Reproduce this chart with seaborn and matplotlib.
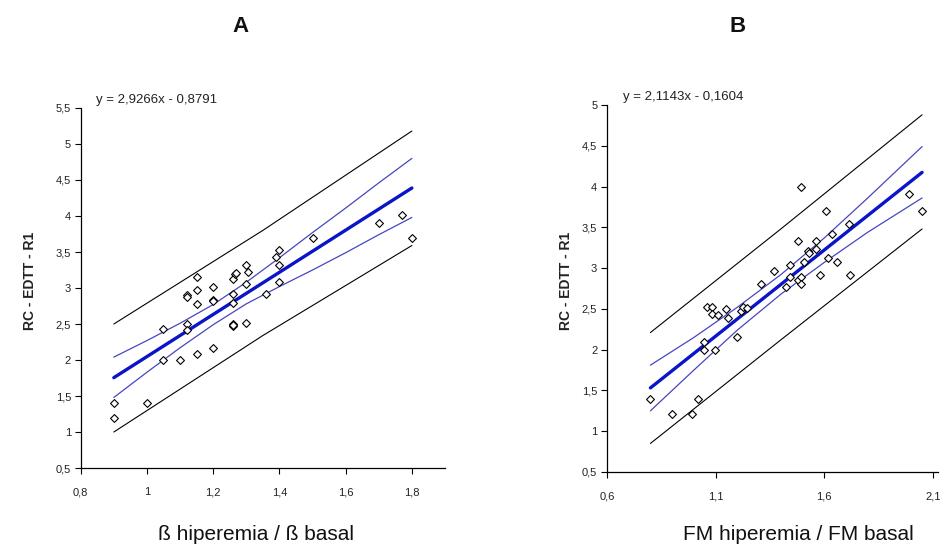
import matplotlib
matplotlib.use("Agg")
import matplotlib.pyplot as plt
import seaborn as sns
import numpy as np
import pandas as pd
from matplotlib.ticker import FixedLocator, FixedFormatter

# ---------------- data: panel A ----------------
a_x = [0.90, 0.90, 1.00, 1.05, 1.05, 1.10, 1.12, 1.12, 1.12, 1.12, 1.15, 1.15, 1.15, 1.15,
       1.20, 1.20, 1.20, 1.20, 1.26, 1.265, 1.27, 1.26, 1.26, 1.26, 1.26, 1.26,
       1.30, 1.305, 1.30, 1.30, 1.36, 1.39, 1.40, 1.40, 1.40, 1.50, 1.70, 1.77, 1.80]
a_y = [1.40, 1.20, 1.40, 2.43, 2.00, 2.00, 2.50, 2.42, 2.90, 2.88, 3.15, 2.97, 2.78, 2.09,
       3.02, 2.83, 2.82, 2.16, 3.13, 3.20, 3.21, 2.91, 2.79, 2.50, 2.47, 2.48,
       3.32, 3.22, 3.06, 2.51, 2.91, 3.43, 3.53, 3.32, 3.08, 3.70, 3.90, 4.02, 3.70]
a_slope, a_intercept = 2.9266, -0.8791
a_band_x = [0.9, 1.0, 1.1, 1.2, 1.3, 1.4, 1.5, 1.6, 1.7, 1.8]
a_conf_up = [2.04, 2.27, 2.51, 2.77, 3.08, 3.42, 3.77, 4.11, 4.46, 4.80]
a_conf_lo = [1.48, 1.83, 2.17, 2.49, 2.78, 3.02, 3.25, 3.49, 3.74, 3.98]
a_pred_x = [0.9, 1.35, 1.8]
a_pred_up = [2.50, 3.80, 5.18]
a_pred_lo = [1.00, 2.34, 3.59]
a_xticks = [0.8, 1.0, 1.2, 1.4, 1.6, 1.8]
a_xticklabels = ["0,8", "1", "1,2", "1,4", "1,6", "1,8"]
a_yticks = [0.5, 1, 1.5, 2, 2.5, 3, 3.5, 4, 4.5, 5, 5.5]
a_yticklabels = ["0,5", "1", "1,5", "2", "2,5", "3", "3,5", "4", "4,5", "5", "5,5"]

# ---------------- data: panel B ----------------
b_x = [0.80, 0.90, 0.99, 1.02, 1.045, 1.045, 1.06, 1.085, 1.085, 1.11, 1.095, 1.15, 1.155,
       1.20, 1.215, 1.225, 1.245, 1.31, 1.37, 1.425, 1.44, 1.44, 1.48, 1.48, 1.495, 1.495,
       1.495, 1.505, 1.525, 1.53, 1.56, 1.56, 1.58, 1.61, 1.615, 1.635, 1.66, 1.715, 1.72,
       1.99, 2.05]
b_y = [1.40, 1.21, 1.21, 1.39, 2.10, 1.99, 2.52, 2.52, 2.44, 2.42, 2.00, 2.50, 2.39,
       2.16, 2.48, 2.52, 2.51, 2.81, 2.96, 2.77, 3.04, 2.89, 3.33, 2.85, 4.00, 2.89,
       2.80, 3.08, 3.21, 3.18, 3.23, 3.33, 2.91, 3.70, 3.13, 3.42, 3.08, 3.54, 2.92,
       3.91, 3.70]
b_slope, b_intercept = 2.1143, -0.1604
b_band_x = [0.8, 1.0, 1.2, 1.4, 1.6, 1.8, 2.05]
b_conf_up = [1.81, 2.15, 2.52, 2.92, 3.37, 3.86, 4.49]
b_conf_lo = [1.25, 1.75, 2.24, 2.68, 3.07, 3.44, 3.86]
b_pred_x = [0.8, 1.4, 2.05]
b_pred_up = [2.21, 3.48, 4.88]
b_pred_lo = [0.85, 2.12, 3.48]
b_xticks = [0.6, 1.1, 1.6, 2.1]
b_xticklabels = ["0,6", "1,1", "1,6", "2,1"]
b_yticks = [0.5, 1, 1.5, 2, 2.5, 3, 3.5, 4, 4.5, 5]
b_yticklabels = ["0,5", "1", "1,5", "2", "2,5", "3", "3,5", "4", "4,5", "5"]

sns.set_theme(style="ticks")
plt.rcParams["font.family"] = ["Liberation Sans", "DejaVu Sans"]

fig = plt.figure(figsize=(9.45, 5.49), dpi=100)
fig.patch.set_facecolor("white")

ax_a = fig.add_axes([0.0854, 0.1475, 0.3855, 0.6558])
ax_b = fig.add_axes([0.6423, 0.1403, 0.3500, 0.6684])

THICK = "#0a14c8"
THIN = "#4646c0"


def draw_panel(ax, x, y, slope, intercept, bx, cu, cl, px, pu, pl,
               xlim, ylim, xt, xtl, yt, ytl, eq, eq_pos, lab_x):
    # prediction band (black)
    sns.lineplot(x=px, y=pu, ax=ax, color="black", lw=0.8, sort=False, estimator=None)
    sns.lineplot(x=px, y=pl, ax=ax, color="black", lw=0.8, sort=False, estimator=None)
    # confidence band (blue)
    sns.lineplot(x=bx, y=cu, ax=ax, color=THIN, lw=0.9, sort=False, estimator=None)
    sns.lineplot(x=bx, y=cl, ax=ax, color=THIN, lw=0.9, sort=False, estimator=None)
    # regression line
    fx = np.array([min(x), max(x)])
    sns.lineplot(x=fx, y=slope * fx + intercept, ax=ax, color=THICK, lw=2.4,
                 sort=False, estimator=None)
    # points
    sns.scatterplot(x=x, y=y, ax=ax, marker="D", s=16, facecolor="white",
                    edgecolor="black", linewidth=0.8, zorder=5)
    ax.set_xlim(*xlim)
    ax.set_ylim(*ylim)
    ax.xaxis.set_major_locator(FixedLocator(xt))
    ax.xaxis.set_major_formatter(FixedFormatter(xtl))
    ax.yaxis.set_major_locator(FixedLocator(yt))
    ax.yaxis.set_major_formatter(FixedFormatter(ytl))
    ax.tick_params(axis="both", labelsize=8, length=4, width=0.8, color="black",
                   labelcolor="#222222", pad=3)
    ax.tick_params(axis="x", pad=10)
    sns.despine(ax=ax)
    for s in ("left", "bottom"):
        ax.spines[s].set_color("black")
        ax.spines[s].set_linewidth(0.9)
    ax.set_xlabel("")
    ax.set_ylabel("RC - EDTT - R1", fontsize=10, fontweight="bold", color="#222222")
    ax.yaxis.set_label_coords(lab_x, 0.52)
    ax.set_facecolor("white")
    fig.text(eq_pos[0], eq_pos[1], eq, fontsize=9.5, ha="left", va="center",
             color="#222222")


draw_panel(ax_a, a_x, a_y, a_slope, a_intercept, a_band_x, a_conf_up, a_conf_lo,
           a_pred_x, a_pred_up, a_pred_lo, (0.8, 1.9), (0.5, 5.5),
           a_xticks, a_xticklabels, a_yticks, a_yticklabels,
           "y = 2,9266x - 0,8791", (0.1016, 0.818), -0.12)
draw_panel(ax_b, b_x, b_y, b_slope, b_intercept, b_band_x, b_conf_up, b_conf_lo,
           b_pred_x, b_pred_up, b_pred_lo, (0.6, 2.122), (0.5, 5.0),
           b_xticks, b_xticklabels, b_yticks, b_yticklabels,
           "y = 2,1143x - 0,1604", (0.659, 0.823), -0.104)

fig.text(0.254, 0.952, "A", fontsize=16, fontweight="bold", ha="center", va="center",
         color="#111111")
fig.text(0.780, 0.952, "B", fontsize=16, fontweight="bold", ha="center", va="center",
         color="#111111")
fig.text(0.271, 0.027, "ß hiperemia / ß basal", fontsize=15, ha="center",
         va="center", color="#111111")
fig.text(0.845, 0.027, "FM hiperemia / FM basal", fontsize=15, ha="center",
         va="center", color="#111111")

fig.savefig("out.png", dpi=100, facecolor="white")
